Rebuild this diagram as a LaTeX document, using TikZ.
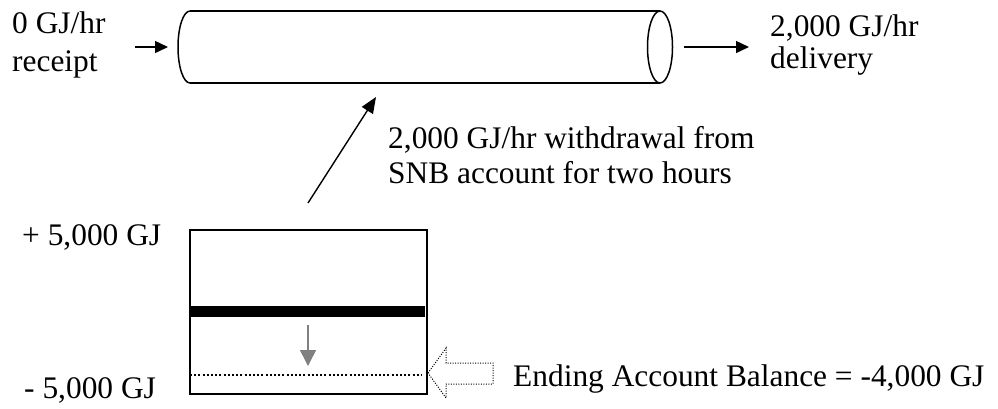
\documentclass[tikz,border=0pt]{standalone}
\usepackage{fontspec}
\setmainfont{Liberation Serif}
\usetikzlibrary{arrows.meta}
\begin{document}
\begin{tikzpicture}[x=1pt,y=-1pt,
  lbl/.style={anchor=base west,inner sep=0pt,font=\fontsize{31.4}{36}\selectfont},
  flow/.style={line width=1.4pt,-{Triangle[length=13pt,width=12pt]}},
  outline/.style={line width=1.5pt}]
\useasboundingbox (0,0) rectangle (998,408);

% pipeline section
\draw[outline] (190,11) -- (660,11);
\draw[outline] (190,83) -- (660,83);
\draw[outline] (190,83) arc[start angle=90,end angle=270,x radius=12,y radius=36];
\draw[outline] (660,47) ellipse[x radius=12.5,y radius=36];

% flow in and out of the pipe
\coordinate (inS) at (135,47);
\coordinate (inE) at (168,47);
\coordinate (outS) at (684,47);
\coordinate (outE) at (749,47);
\draw[flow] (inS) -- (inE);
\draw[flow] (outS) -- (outE);

\node[lbl] (rc1) at (12,33) {0 GJ/hr};
\node[lbl] (rc2) at (12,71) {receipt};
\node[lbl] (dl1) at (770,36) {2,000 GJ/hr};
\node[lbl] (dl2) at (770,68) {delivery};

% withdrawal from the account into the pipe
\coordinate (wdS) at (308,203);
\coordinate (wdE) at (376,97);
\draw[line width=1.4pt,-{Triangle[length=16pt,width=13pt]}] (wdS) -- (wdE);
\node[lbl] (wd1) at (388,148) {2,000 GJ/hr withdrawal from};
\node[lbl] (wd2) at (388,183) {SNB account for two hours};

% account balance gauge
\draw[outline] (190,230) rectangle (427,394);
\fill (190,306) rectangle (425,317);
\coordinate (gS) at (308,325);
\coordinate (gE) at (308,366);
\draw[gray,line width=1.5pt,-{Triangle[length=16pt,width=16pt]}] (gS) -- (gE);
\draw[line width=2pt,dash pattern=on 2pt off 2.2pt] (190,375) -- (422,375);

\node[lbl] (top) at (22,245) {+ 5,000 GJ};
\node[lbl] (bot) at (24,398) {- 5,000 GJ};

% hollow pointer to the ending balance
\draw[line width=1pt,dash pattern=on 1pt off 1.5pt] (428,373) -- (446,348) -- (446,363) -- (493,363)
  -- (493,384) -- (446,384) -- (446,398) -- cycle;
\node[lbl] (bal) at (513,386) {Ending Account Balance = -4,000 GJ};
\end{tikzpicture}
\end{document}
